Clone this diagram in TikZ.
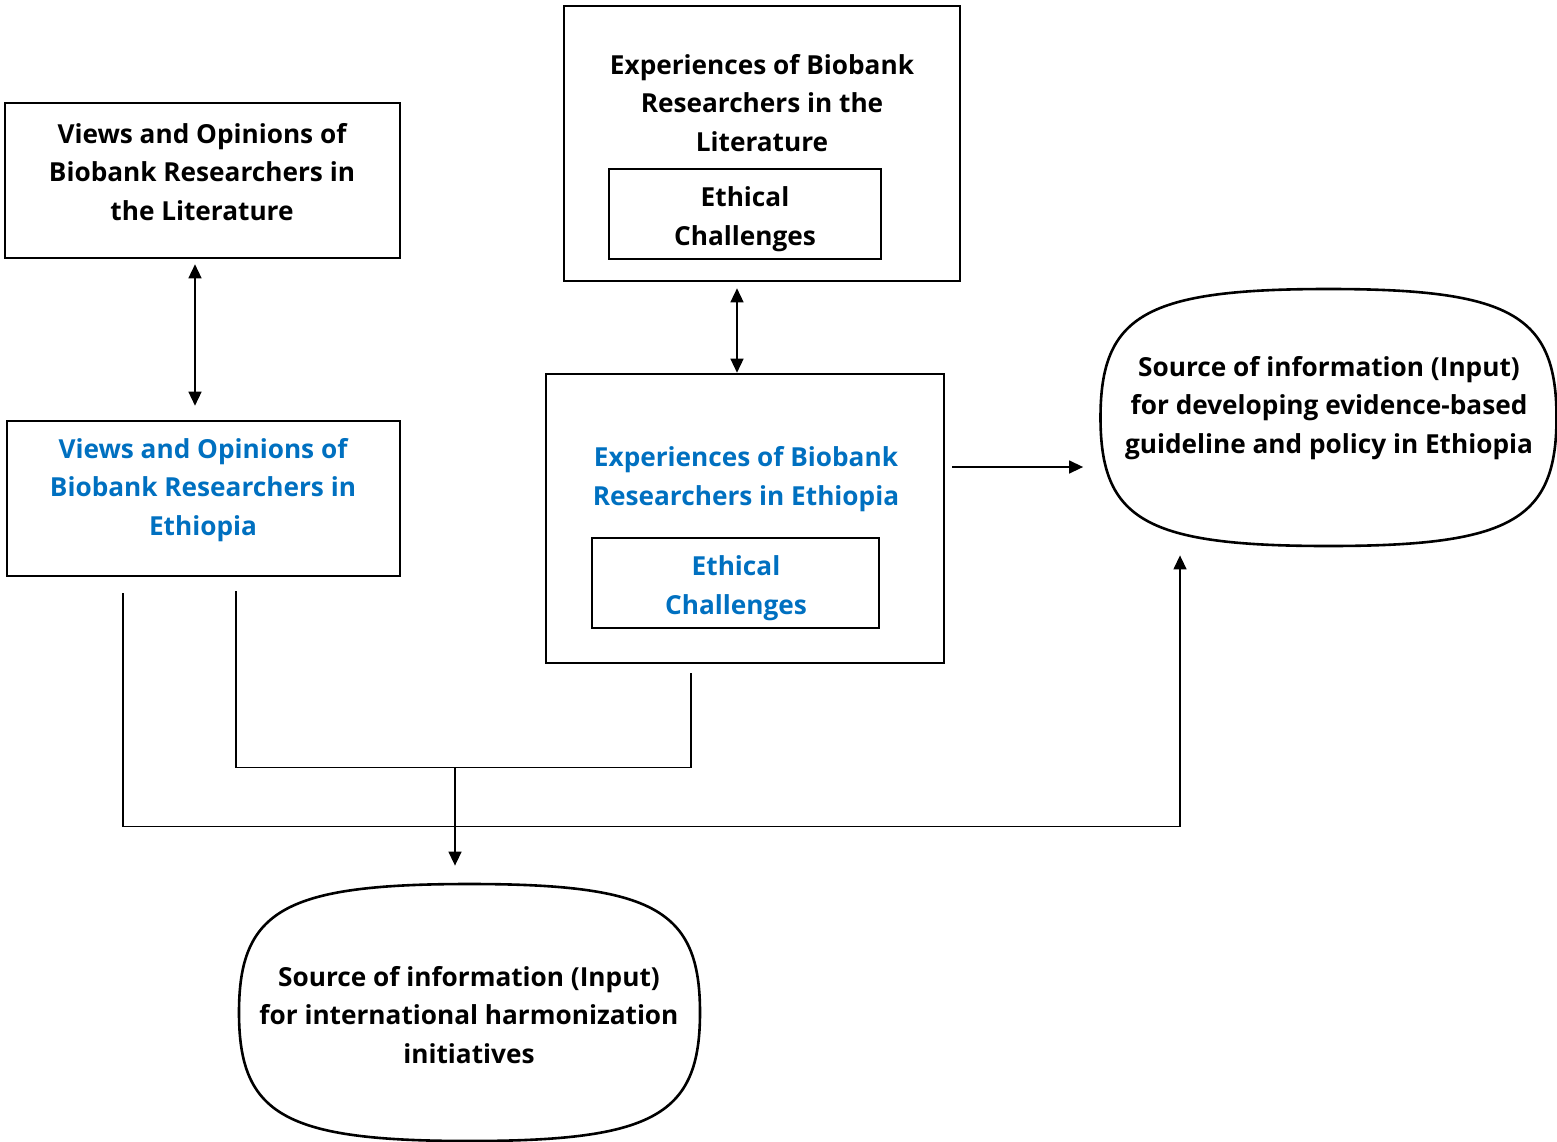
\documentclass[tikz,border=0pt]{standalone}
\usepackage{fontspec}
\setmainfont{Open Sans}
\usetikzlibrary{arrows.meta}
\definecolor{titleblue}{RGB}{0,112,192}
\tikzset{
	boxline/.style={draw,line width=1.3pt},
	frame/.style={boxline,inner sep=0pt},
	txt/.style={align=center,font=\bfseries\fontsize{13.1}{19.25}\selectfont},
	bluetxt/.style={txt,text=titleblue},
	conn/.style={line width=0.7pt},
	arr/.style={conn,-{Triangle[width=6.5pt,length=7pt]}},
	dbl/.style={conn,{Triangle[width=6.5pt,length=7pt]}-{Triangle[width=6.5pt,length=7pt]}}
}
\newcommand{\blobshape}[3]{%
	\begin{scope}[shift={(#1.center)}]
		\draw[boxline] (#2,0) .. controls (#2,0.8*#3) and (0.8*#2,#3) .. (0,#3)
		.. controls (-0.8*#2,#3) and (-#2,0.8*#3) .. (-#2,0)
		.. controls (-#2,-0.8*#3) and (-0.8*#2,-#3) .. (0,-#3)
		.. controls (0.8*#2,-#3) and (#2,-0.8*#3) .. cycle;
	\end{scope}}
\begin{document}
\begin{tikzpicture}[x=0.5pt,y=-0.5pt]
	\useasboundingbox (0,0) rectangle (1557,1141);
	%			Views
	\node[frame,minimum width=197.5pt,minimum height=77.5pt] (viewsLit) at (202.5,180.5) {};
	\node[txt] (viewsLitTxt) at (202,172) {Views and Opinions of\\Biobank Researchers in\\the Literature};
	\node[frame,minimum width=196.5pt,minimum height=77.5pt] (viewsEth) at (203.5,498.5) {};
	\node[bluetxt] (viewsEthTxt) at (203,490) {Views and Opinions of\\Biobank Researchers in\\Ethiopia};
	%			Experiences
	\node[frame,minimum width=198pt,minimum height=137.5pt] (expLit) at (762,143.5) {};
	\node[txt] (expLitTxt) at (762,103) {Experiences of Biobank\\Researchers in the\\Literature};
	\node[frame,minimum width=136pt,minimum height=45pt] (ethLit) at (745,214) {};
	\node[txt] (ethLitTxt) at (745,219) {Ethical\\Challenges};
	\node[frame,minimum width=199pt,minimum height=144.5pt] (expEth) at (745,518.5) {};
	\node[bluetxt] (expEthTxt) at (746,479) {Experiences of Biobank\\Researchers in Ethiopia};
	\node[frame,minimum width=143.5pt,minimum height=45pt] (ethEth) at (735.5,583) {};
	\node[bluetxt] (ethEthTxt) at (736,588) {Ethical\\Challenges};
	%			Outputs
	\node[inner sep=0pt,minimum width=228pt,minimum height=128.5pt] (guide) at (1328.5,417.5) {};
	\blobshape{guide}{228}{128.5}
	\node[txt] (guideTxt) at (1329,408) {Source of information (Input)\\for developing evidence-based\\guideline and policy in Ethiopia};
	\node[inner sep=0pt,minimum width=230.5pt,minimum height=128.5pt] (harmon) at (469.5,1012.5) {};
	\blobshape{harmon}{230.5}{128.5}
	\node[txt] (harmonTxt) at (469,1015) {Source of information (Input)\\for international harmonization\\initiatives};
	%			Connectors
	\draw[dbl] ([xshift=-3.75pt,yshift=-2.5pt]viewsLit.south) -- ([xshift=-4.25pt,yshift=7pt]viewsEth.north);
	\draw[dbl] ([xshift=-12.5pt,yshift=-3pt]expLit.south) -- ([xshift=-4pt]expEth.north);
	\draw[arr,shorten >=8.5pt] ([shift={(3.5pt,25.75pt)}]expEth.east) -- ([yshift=25.75pt]expEth.east -| guide.west);
	\draw[arr,shorten >=4.5pt] ([xshift=-40.25pt,yshift=-8pt]viewsEth.south) -- ++(0pt,-116.5pt) -| ([xshift=-74.25pt]guide.south);
	\draw[conn] ([xshift=16.25pt,yshift=-7pt]viewsEth.south) -- ++(0pt,-88pt) coordinate (merge) -| ([xshift=-27pt,yshift=-4.5pt]expEth.south);
	\draw[arr,shorten >=9pt] ([xshift=-7.25pt]harmon.north |- merge) -- ([xshift=-7.25pt]harmon.north);
\end{tikzpicture}
\end{document}
